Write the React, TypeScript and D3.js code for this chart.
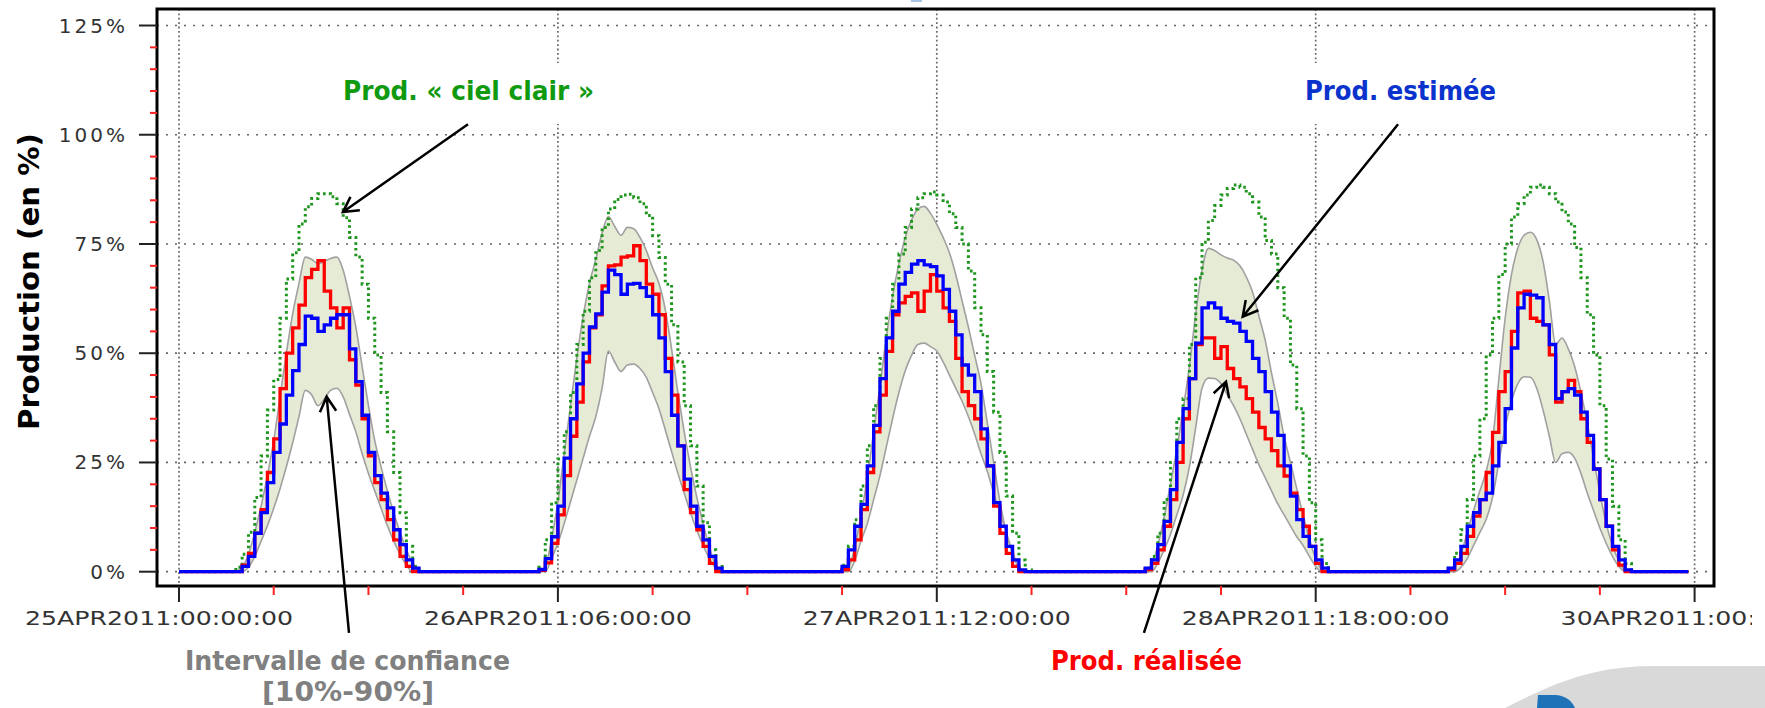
import React from 'react';
import * as d3 from 'd3';

const W = 1765;
const H = 708;

// ---- axis ticks ----
const xTickHours = [0, 30, 60, 90, 120];
const xTickLabels = ['25APR2011:00:00:00', '26APR2011:06:00:00', '27APR2011:12:00:00', '28APR2011:18:00:00', '30APR2011:00:00:00'];
const yTickValues = [0, 25, 50, 75, 100, 125];
const yTickLabels = ['0%', '25%', '50%', '75%', '100%', '125%'];

// each day: half-hour bins starting at 04:30
const DAY_START_HOUR = 4.5;
const STEP_HOURS = 0.5;

// ---- Prod. « ciel clair » (green dotted) ----
const clearSkyDay0 = [1, 4, 9, 17, 26.5, 37, 44, 58, 67, 73, 79.6, 83.5, 85.4, 86.5, 86.5, 85.8, 84.2, 81, 76.5, 72, 65.8, 58, 49.6, 41, 32, 22.7, 13.5, 5.8, 1.2, 0];
const clearSkyDay1 = [1, 7.3, 15.8, 25.8, 32, 41, 52, 59.6, 67.3, 73.5, 78.8, 83, 85.2, 86.2, 86.4, 85.6, 84.2, 81.5, 76.9, 71.9, 65.8, 56.5, 48, 38, 28.8, 19.6, 11.2, 5, 1.2, 0];
const clearSkyDay2 = [1.5, 5.8, 11.9, 19.6, 28.8, 38, 48.8, 58, 65.8, 72.7, 78.8, 83, 85.6, 86.5, 86.9, 86.2, 84.6, 81.9, 78.8, 75, 68.8, 60.4, 54.2, 45.8, 36.5, 27.3, 17.3, 8.8, 2.7, 0.4];
const clearSkyDay3 = [0.8, 3.5, 8.8, 16.5, 25, 35, 39.6, 52, 67.3, 75.4, 80.4, 83.8, 86.2, 87.7, 88.5, 88, 86.5, 84.6, 81.2, 75.8, 72.7, 65, 58, 47.3, 37.3, 26.5, 15.8, 7.3, 1.9, 0];
const clearSkyDay4 = [0.8, 4.2, 9.6, 16.5, 26.5, 35, 49.6, 58, 68, 75, 81.2, 84.2, 86.2, 88, 88.5, 88, 86.5, 84.6, 82.3, 79.6, 74.2, 67.3, 58.8, 49.6, 38, 25.8, 15, 7.3, 1.9, 0];

// ---- Prod. estimée (blue) ----
const estDay0 = [0, 1.2, 3.5, 8.8, 13.5, 20.4, 27.3, 33.8, 40.4, 46, 52, 58.5, 58, 55, 56.5, 58, 58.8, 58.8, 51, 43.5, 35.8, 27.3, 22, 18, 14.6, 9.6, 6.2, 2.7, 0.8, 0];
const estDay1 = [0.5, 3, 8, 15, 26, 35, 43, 50, 56, 59, 64, 69, 68, 63.5, 65.8, 66, 65, 63, 58.8, 53.5, 45.8, 35.8, 28.8, 21.2, 15, 10.4, 7.3, 3.5, 0.8, 0];
const estDay2 = [1.2, 5, 10.4, 15.4, 24.2, 33.5, 44.2, 53.5, 59.6, 65.8, 68.5, 70.4, 71.2, 70.2, 69.8, 67.7, 64.6, 59.6, 54.2, 47.3, 45, 41.2, 32.7, 24.2, 15.8, 10.4, 5.8, 2.7, 0.4, 0];
const estDay3 = [0.8, 2.7, 6.2, 11.5, 18.8, 29.6, 37.3, 44.2, 52.3, 60.4, 61.5, 60.4, 58, 57.3, 56.9, 55, 52.7, 48.8, 45.8, 41.2, 36.5, 31.2, 24.2, 17.3, 11.9, 8.1, 5.8, 2.7, 0.8, 0];
const estDay4 = [0.8, 2.7, 5.8, 10.4, 13.5, 16.5, 18, 24.2, 29.6, 37.3, 51.2, 60.4, 63.5, 63.3, 62.7, 56.5, 52, 39.6, 41.2, 41.9, 40.4, 36.5, 31.2, 23.5, 16.5, 10.4, 5.8, 2.7, 0.4, 0];

// ---- Prod. réalisée (red) ----
const realDay0 = [0, 1.5, 4.2, 8.8, 14.2, 22.7, 30.4, 41.9, 50, 55.8, 61, 67.3, 69.2, 71.2, 64.2, 60.4, 55.8, 60.4, 48.5, 42.7, 35, 26.5, 20.4, 16.5, 11.9, 7.3, 3.5, 1.2, 0, 0];
const realDay1 = [0.3, 2, 6.5, 13, 22, 31, 38.8, 48, 55.8, 58.8, 65.4, 70, 70.2, 72, 72.3, 74.6, 71.2, 65.8, 63.5, 58.8, 48.8, 40.4, 28.8, 18.8, 13.5, 9.6, 5.8, 1.9, 0, 0];
const realDay2 = [0.5, 2.7, 7.3, 14.2, 22.7, 32, 40.4, 50.4, 58.8, 61.5, 63, 63.8, 59.6, 64.2, 68, 64.2, 60.4, 57.3, 48.8, 41.2, 38, 35, 30.4, 24.2, 15, 8.8, 4.2, 1.2, 0, 0];
const realDay3 = [0.5, 1.9, 5, 10.4, 16.5, 25, 35, 44.2, 52, 53.5, 53.5, 48.8, 51.5, 46.5, 44.2, 42.3, 39.6, 36.5, 33, 30.4, 27.7, 24.2, 21.9, 18, 14.2, 10.4, 5.8, 1.9, 0, 0];
const realDay4 = [0.5, 1.9, 4.2, 8.1, 12.7, 16.5, 22.7, 31.9, 41.2, 45.8, 55, 63.8, 64.2, 58, 57.3, 56.5, 49.6, 38.8, 41.2, 43.8, 41.2, 35, 29.6, 23.5, 16.5, 10.4, 5, 1.5, 0, 0];

// ---- Intervalle de confiance [10%-90%] (band, sampled every half hour from 04:30) ----
const upperDay0 = [0, 1, 4, 9, 15, 22, 30, 40, 50, 59, 66, 72, 71.5, 70.5, 71, 71.7, 72, 69, 63, 56, 47, 38, 30, 24, 18.5, 13.5, 9, 5, 2, 0];
const upperDay1 = [0, 1, 7.5, 16, 27, 38, 49, 58.5, 66, 71.5, 77.5, 81.3, 79, 77, 78.8, 78.5, 76.5, 73.5, 69.5, 66, 60, 51, 41, 32, 24, 17, 11, 5.5, 1.5, 0];
const upperDay2 = [0, 1, 5.5, 13, 21.5, 32, 42.5, 53.5, 63, 70.5, 76.5, 80.5, 83, 83.6, 82, 79.5, 76.5, 73, 68, 62, 56, 49.5, 43, 34, 25, 16, 9, 4, 1, 0];
const upperDay3 = [0, 1.5, 6, 12.5, 20, 28, 37, 47, 59, 69, 74, 73.5, 72.5, 71.8, 71.3, 70, 67.5, 64, 58.5, 53, 45.5, 38.5, 31, 25, 19, 13, 7.5, 3, 0.5, 0];
const upperDay4 = [0, 1, 4, 9, 14, 18.5, 23, 30, 44, 58, 68, 74, 77, 77.7, 76, 71, 62, 52, 53.5, 51, 47, 41, 34, 26, 18, 11, 6, 2.5, 0.3, 0];

const lowerDay0 = [0, 0, 1, 3.5, 7, 10.5, 14.5, 19, 24, 29.5, 35.5, 41.5, 40.5, 38, 39.5, 41.5, 42, 40, 36, 32, 27, 22.5, 18.5, 14.5, 10.5, 7, 4, 1.5, 0, 0];
const lowerDay1 = [0, 0, 3, 6.5, 11, 16, 21, 26, 31, 35.5, 42, 50.5, 48, 45.8, 47.3, 47.5, 46.5, 44.5, 41, 37.3, 32.5, 27.5, 22.5, 18, 13.5, 9.5, 6, 3, 0.8, 0];
const lowerDay2 = [0, 0, 2.5, 7, 11, 16.5, 22, 28.5, 35, 41, 46, 49.5, 52, 52.3, 51.5, 50.5, 48, 45, 42, 39, 35.5, 31.5, 27, 23, 18, 13.5, 9, 4.5, 1, 0];
const lowerDay3 = [0, 0, 2, 5, 8.5, 13, 17.5, 24, 33, 42, 44.3, 44.2, 43, 40.5, 38, 35, 31.5, 28, 24.5, 21.5, 18.5, 15.5, 13, 10.5, 8, 6, 3.5, 1.2, 0, 0];
const lowerDay4 = [0, 0, 1, 3, 6, 9, 12, 17, 25, 33, 39, 43, 44.6, 44.5, 42, 37, 31, 25, 27, 27.3, 26, 22.5, 18, 14, 10, 6.5, 3.5, 1.2, 0, 0];

const clearSkyDays = [clearSkyDay0, clearSkyDay1, clearSkyDay2, clearSkyDay3, clearSkyDay4];
const estDays = [estDay0, estDay1, estDay2, estDay3, estDay4];
const realDays = [realDay0, realDay1, realDay2, realDay3, realDay4];
const upperDays = [upperDay0, upperDay1, upperDay2, upperDay3, upperDay4];
const lowerDays = [lowerDay0, lowerDay1, lowerDay2, lowerDay3, lowerDay4];

const SERIES_END_HOUR = 119.5;

// annotations
const labelTexts = ['Prod. « ciel clair »', 'Prod. estimée', 'Prod. réalisée', 'Intervalle de confiance', '[10%-90%]'];
const labelColors = ['#109a10', '#0a32cc', '#ff0000', '#808080', '#808080'];
// arrows in data space: [fromHour, fromValue, toHour, toValue]
const arrowsData = [
  [22.88, 102.4, 12.98, 82.3],
  [96.52, 102.4, 84.22, 58.35],
  [13.46, -14.0, 11.69, 40.05],
  [76.4, -14.0, 82.9, 43.5],
];

function toSeries(days: number[][]): [number, number][] {
  const n = Math.round(SERIES_END_HOUR / STEP_HOURS) + 1;
  const vals = new Array(n).fill(0);
  days.forEach((arr, d) => {
    const base = Math.round((24 * d + DAY_START_HOUR) / STEP_HOURS);
    arr.forEach((v, k) => { vals[base + k] = v; });
  });
  return vals.map((v, i) => [i * STEP_HOURS, v] as [number, number]);
}

function arrowPath(x1: number, y1: number, x2: number, y2: number) {
  const a = Math.atan2(y2 - y1, x2 - x1);
  const L = 17, s = 0.5;
  const ax1 = x2 - L * Math.cos(a - s), ay1 = y2 - L * Math.sin(a - s);
  const ax2 = x2 - L * Math.cos(a + s), ay2 = y2 - L * Math.sin(a + s);
  return `M${x1},${y1}L${x2},${y2}M${ax1},${ay1}L${x2},${y2}L${ax2},${ay2}`;
}

export default function App() {
  const frame = { left: 157, top: 9, right: 1714, bottom: 586 };
  const x = d3.scaleLinear().domain([0, 120]).range([179, 1694.6]);
  const y = d3.scaleLinear().domain([0, 125]).range([571.7, 25.5]);

  const clearSky = toSeries(clearSkyDays);
  const est = toSeries(estDays);
  const real = toSeries(realDays);

  const stepLine = d3.line<[number, number]>().x(d => x(d[0])).y(d => y(d[1])).curve(d3.curveStepAfter);

  const bands = upperDays.map((ups, d) => ups.map((u, j) => [24 * d + DAY_START_HOUR + j * STEP_HOURS, lowerDays[d][j], u]));
  const area = d3.area<number[]>().x(d => x(d[0])).y0(d => y(d[1])).y1(d => y(d[2])).curve(d3.curveMonotoneX);
  const lowLine = d3.line<number[]>().x(d => x(d[0])).y(d => y(d[1])).curve(d3.curveMonotoneX);
  const upLine = d3.line<number[]>().x(d => x(d[0])).y(d => y(d[2])).curve(d3.curveMonotoneX);

  const yMinor = d3.range(5, 125, 5).filter(v => v % 25 !== 0);
  const xMinor = d3.range(7.5, 120, 7.5).filter(h => h % 30 !== 0);

  const labelPos = [
    { x: 343, y: 100, w: 251 },
    { x: 1305, y: 100, w: 191 },
    { x: 1051, y: 670, w: 191 },
    { x: 185, y: 670, w: 325 },
    { x: 262, y: 701, w: 172 },
  ];
  // first tick label is pushed left in the reference
  const xLabelShift = [-20, 0, 0, 0, 0];

  return (
    <svg width={W} height={H} style={{ position: 'absolute', left: 0, top: 0, background: '#fff' }}
      fontFamily="'DejaVu Sans', Verdana, sans-serif">
      <defs>
        <clipPath id="pageclip"><rect x={0} y={0} width={1752} height={H} /></clipPath>
      </defs>
      <rect x={0} y={0} width={W} height={H} fill="#fff" />
      <rect x={911} y={0} width={11} height={2} fill="#a9c4e4" />

      {/* grid */}
      {yTickValues.map(v => (
        <line key={'gy' + v} x1={frame.left} x2={frame.right} y1={y(v)} y2={y(v)}
          stroke="#666" strokeWidth={1.7} strokeDasharray="2,7" />
      ))}
      {xTickHours.map(h => (
        <line key={'gx' + h} x1={x(h)} x2={x(h)} y1={frame.top} y2={frame.bottom}
          stroke="#666" strokeWidth={1.7} strokeDasharray="1.8,2.6" />
      ))}

      {/* annotation boxes hiding grid */}
      <rect x={labelPos[0].x - 10} y={63} width={labelPos[0].w + 20} height={61} fill="#fff" />
      <rect x={labelPos[1].x - 10} y={63} width={labelPos[1].w + 20} height={61} fill="#fff" />

      {/* confidence band */}
      {bands.map((b, i) => (
        <g key={'band' + i}>
          <path d={area(b) || ''} fill="#e6ebd5" stroke="none" />
          <path d={upLine(b) || ''} fill="none" stroke="#a0a0a0" strokeWidth={1.6} />
          <path d={lowLine(b) || ''} fill="none" stroke="#a0a0a0" strokeWidth={1.6} />
        </g>
      ))}

      {/* series */}
      <path d={stepLine(clearSky) || ''} fill="none" stroke="#1e961e" strokeWidth={3} strokeDasharray="2.6,3.2" />
      <path d={stepLine(real) || ''} fill="none" stroke="#ff0000" strokeWidth={3.3} />
      <path d={stepLine(est) || ''} fill="none" stroke="#0000ff" strokeWidth={3.3} />

      {/* frame */}
      <rect x={frame.left} y={frame.top} width={frame.right - frame.left} height={frame.bottom - frame.top}
        fill="none" stroke="#000" strokeWidth={3} />

      {/* y ticks */}
      {yTickValues.map((v, i) => (
        <g key={'yt' + v}>
          <line x1={139} x2={frame.left} y1={y(v)} y2={y(v)} stroke="#222" strokeWidth={2} />
          <text x={128} y={y(v) + 7} textAnchor="end" fontSize={20} letterSpacing={3} fill="#333">{yTickLabels[i]}</text>
        </g>
      ))}
      {yMinor.map(v => (
        <line key={'ym' + v} x1={150} x2={frame.left} y1={y(v)} y2={y(v)} stroke="#ff2020" strokeWidth={2} />
      ))}

      {/* x ticks */}
      <g clipPath="url(#pageclip)">
        {xTickHours.map((h, i) => (
          <g key={'xt' + h}>
            <line x1={x(h)} x2={x(h)} y1={frame.bottom} y2={602} stroke="#222" strokeWidth={2} />
            <text x={x(h) - 134 + xLabelShift[i]} y={625} fontSize={19.5} textLength={268}
              lengthAdjust="spacingAndGlyphs" fill="#333">{xTickLabels[i]}</text>
          </g>
        ))}
      </g>
      {xMinor.map(h => (
        <line key={'xm' + h} x1={x(h)} x2={x(h)} y1={frame.bottom} y2={595} stroke="#ff2020" strokeWidth={2} />
      ))}

      {/* y title */}
      <text transform="translate(39,281.5) rotate(-90)" textAnchor="middle" fontSize={29} fontWeight="bold"
        textLength={297} lengthAdjust="spacingAndGlyphs" fill="#000">Production (en %)</text>

      {/* annotation labels */}
      {labelTexts.map((t, i) => (
        <text key={'lab' + i} x={labelPos[i].x} y={labelPos[i].y} fontSize={26} fontWeight="bold"
          textLength={labelPos[i].w} lengthAdjust="spacingAndGlyphs" fill={labelColors[i]}>{t}</text>
      ))}

      {/* arrows */}
      {arrowsData.map((a, i) => (
        <path key={'ar' + i} d={arrowPath(x(a[0]), y(a[1]), x(a[2]), y(a[3]))} fill="none" stroke="#000" strokeWidth={2.5} />
      ))}

      {/* logo fragment */}
      <path d="M1505,708 C1545,688 1585,667 1650,666 L1765,666 L1765,708 Z" fill="#d9d9d9" />
      <path d="M1537,708 L1538,695 L1556,695 C1566,696 1572,701 1575,708 Z" fill="#1f72b8" />
    </svg>
  );
}
